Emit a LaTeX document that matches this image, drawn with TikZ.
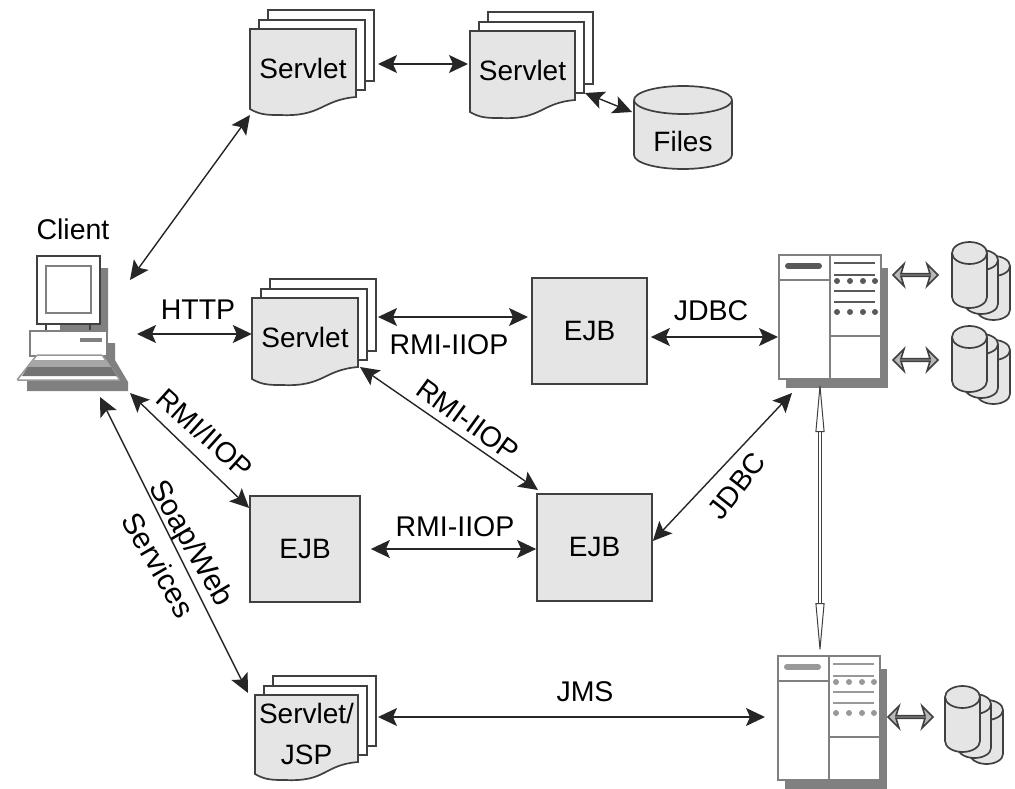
\documentclass[tikz,border=0pt]{standalone}
\usepackage{fontspec}
\setmainfont{Liberation Sans}
\usetikzlibrary{arrows.meta,shapes.geometric,shapes.arrows}
\definecolor{pagegray}{gray}{0.9}
\definecolor{inkgray}{gray}{0.25}
\definecolor{shadegray}{gray}{0.5}
\tikzset{
  link/.style={{Stealth[length=19pt,width=18pt,inset=4pt]}-{Stealth[length=19pt,width=18pt,inset=4pt]},line width=1.4pt,black!85},
  thinlink/.style={{Triangle[open,length=52pt,width=9pt]}-{Triangle[open,length=52pt,width=9pt]},line width=1pt,black!75,double=white,double distance=2.5pt},
  ink/.style={draw=inkgray,line width=1.7pt},
  ejbbox/.style={ink,fill=pagegray,minimum width=#1,inner sep=0pt,font=\fontsize{28}{28}\selectfont},
  lbl/.style={font=\fontsize{28.5}{28.5}\selectfont,inner sep=0pt},
  blockarrow/.style={draw=inkgray,line width=1.6pt,fill=black!28,double arrow,double arrow head extend=6pt,
    minimum height=45pt,minimum width=22pt,inner sep=0pt,double arrow head indent=3pt},
}
% one sheet of a servlet stack, corner at (#1,#2), width #3, height to the wave #4
\newcommand{\sheet}[4]{
  \draw[ink,fill=pagegray] (#1,#2) -- ++(#3,0) -- ++(0,#4-18)
    .. controls +(-35,3) and +(42,2) .. ++(-#3+30,18)
    .. controls +(-12,0) and +(10,6) .. ++(-30,-6) -- cycle;
}
\newcommand{\backsheet}[4]{
  \draw[ink,fill=white] (#1,#2) rectangle ++(#3,#4);
}
% stack of three sheets
\newcommand{\servlets}[6]{
  \backsheet{#2+18}{#3-19}{#4}{#5-15}
  \backsheet{#2+9}{#3-9}{#4}{#5-16}
  \sheet{#2}{#3}{#4}{#5}
  \node[inner sep=0pt,minimum width=#4pt,minimum height=#5pt,align=center,font=\fontsize{28}{41}\selectfont]
    (#1) at (#2+#4/2,#3+#5/2-4) {#6};
}
% one disk
\newcommand{\disk}[5]{
  \draw[ink,fill=pagegray] (#1,#2) -- (#1,#4)
    arc[start angle=180,end angle=0,x radius=#3/2,y radius=#5] -- (#1+#3,#2)
    arc[start angle=0,end angle=-180,x radius=#3/2,y radius=#5] -- cycle;
  \draw[ink] (#1,#2) arc[start angle=180,end angle=0,x radius=#3/2,y radius=#5];
}
\newcommand{\diskstack}[2]{
  \disk{#1+25}{#2+13}{33}{#2+57}{10}
  \disk{#1+13}{#2+7}{33}{#2+51}{10}
  \disk{#1}{#2}{35}{#2+44}{11}
}
% server cabinet, #4 is the shade of its lines
\newcommand{\cabinet}[4]{
  \fill[shadegray] (#2+8,#3+14) rectangle (#2+110,#3+134);
  \node[draw=gray,line width=1.6pt,fill=white,minimum width=102pt,minimum height=124pt,inner sep=0pt,anchor=north west]
    (#1) at (#2,#3) {};
  \draw[gray,line width=1.6pt] (#2+52,#3) -- (#2+52,#3+124)
    (#2,#3+26) -- (#2+52,#3+26) (#2+52,#3+82) -- (#2+102,#3+82);
  \draw[#4,line width=6pt,line cap=round] (#2+10,#3+12) -- (#2+41,#3+12);
  \foreach \rowy in {9,21,37,48}
    \draw[#4,line width=2.2pt] (#2+56,#3+\rowy) -- (#2+97,#3+\rowy);
  \foreach \rowy in {27,58}
    \foreach \coly in {0,13,26,38}
      \fill[#4] (#2+59+\coly,#3+\rowy) circle (3);
}
\begin{document}
\begin{tikzpicture}[x=1pt,y=-1pt]
  \useasboundingbox (0,0) rectangle (1015,789);

  % the client
  \fill[shadegray] (60,268) rectangle (108,333) (100,343) rectangle (115,360)
    (100,360) -- (115,360) -- (128,382) -- (128,391) -- (27,391) -- (27,381) -- cycle;
  \draw[inkgray,line width=1.5pt,fill=white] (37,256) rectangle (100,324);
  \draw[gray,line width=2pt,fill=white] (46,266) rectangle (91,313);
  \draw[inkgray,line width=1.5pt] (46,324) -- (46,332) (90,324) -- (90,332);
  \draw[gray,line width=1.5pt,fill=white] (30,331) rectangle (107,356);
  \draw[gray,line width=4pt] (80,340) -- (102,340);
  \draw[black!40,line width=1.5pt,fill=white,rounded corners=1pt] (37,355) -- (102,355) -- (120,380) -- (17,380) -- cycle;
  \fill[black!35] (33,360) -- (106,360) -- (111,367) -- (28,367) -- cycle;
  \fill[black!55] (28,367) -- (111,367) -- (117,376) -- (22,376) -- cycle;
  \node[inner sep=0pt,minimum width=111pt,minimum height=135pt,anchor=north west] (client) at (17,256) {};
  \node[lbl] (clientlbl) at (73,229) {Client};

  % servlets
  \servlets{srvA}{250}{29}{106}{86}{Servlet}
  \servlets{srvB}{470}{31}{105}{87}{Servlet}
  \servlets{srvC}{252}{298}{106}{87}{Servlet}
  \servlets{srvD}{255}{695}{103}{85}{Servlet/\\JSP}

  % files
  \disk{634}{100}{98}{155}{14}
  \node[inner sep=0pt,font=\fontsize{28}{28}\selectfont,minimum width=98pt,minimum height=46pt] (files) at (683,141) {Files};

  % ejb boxes
  \node[ejbbox=115pt,minimum height=106pt] (ejbA) at (589.5,331) {EJB};
  \node[ejbbox=110pt,minimum height=106pt] (ejbB) at (305,549) {EJB};
  \node[ejbbox=115pt,minimum height=107pt] (ejbC) at (594.5,547.5) {EJB};

  % servers and their disks
  \cabinet{srvrA}{778}{254}{black!65}
  \cabinet{srvrB}{777}{655}{black!40}
  \diskstack{952}{253}
  \diskstack{952}{337}
  \diskstack{945}{697}
  \node[blockarrow] (blkA) at (915.5,275) {};
  \node[blockarrow] (blkB) at (915.5,360) {};
  \node[blockarrow] (blkC) at (910.5,717) {};

  % free ends of the connectors
  \coordinate (cliTop) at (130,280);
  \coordinate (cliMid) at (137,334);
  \coordinate (cliLow) at (130,393);
  \coordinate (cliBot) at (100,397);
  \coordinate (srvAin) at (250,115);
  \coordinate (srvAout) at (378,64);
  \coordinate (srvBin) at (468,64);
  \coordinate (srvBout) at (585,93);
  \coordinate (filesin) at (632,112);
  \coordinate (srvCout) at (378,317);
  \coordinate (ejbAin) at (528,317);
  \coordinate (srvCbot) at (360,367);
  \coordinate (ejbCtop) at (538,490);
  \coordinate (srvDin) at (248,693);
  \coordinate (srvDout) at (378,717);
  \coordinate (srvrBin) at (765,717);
  \coordinate (srvrAlow) at (792,393);
  \coordinate (srvrAbot) at (820,380);
  \coordinate (srvrBtop) at (820,655);

  \draw[link] (cliTop) -- (srvAin);
  \draw[link] (srvAout) -- (srvBin);
  \draw[link] (srvBout) -- (filesin);
  \draw[link] (cliMid) -- (srvC.west |- cliMid);
  \draw[link] (srvCout) -- (ejbAin);
  \draw[link] (ejbA.east |- 0,337) ++(3,0) coordinate (ejbAout) (ejbAout) -- (srvrA.west |- ejbAout);
  \draw[link] (cliLow) -- (ejbB.west |- 0,508);
  \draw[link] (cliBot) -- (srvDin);
  \draw[link] (srvCbot) -- (ejbCtop);
  \draw[link] (ejbB.east |- 0,549) ++(10,0) coordinate (ejbBout) (ejbBout) -- (ejbC.west |- ejbBout);
  \draw[link] (ejbC.east |- 0,541) -- (srvrAlow);
  \draw[link] (srvDout) -- (srvrBin);
  \draw[thinlink] (srvrAbot) -- (srvrBtop);

  % labels
  \node[lbl] (httplbl) at (198,310) {HTTP};
  \node[lbl] (rmiA) at (449,345) {RMI-IIOP};
  \node[lbl] (jdbcA) at (711,311) {JDBC};
  \node[lbl,rotate=-42] (rmiB) at (205,433) {RMI/IIOP};
  \node[lbl,rotate=-60,font=\fontsize{30}{30}\selectfont] (soaplbl) at (190,544) {Soap/Web};
  \node[lbl,rotate=-60,font=\fontsize{30}{30}\selectfont] (svclbl) at (159,565) {Services};
  \node[lbl,rotate=-36] (rmiC) at (468,420) {RMI-IIOP};
  \node[lbl] (rmiD) at (455,527) {RMI-IIOP};
  \node[lbl,rotate=52] (jdbcB) at (737,486) {JDBC};
  \node[lbl] (jmslbl) at (585,692) {JMS};
\end{tikzpicture}
\end{document}
